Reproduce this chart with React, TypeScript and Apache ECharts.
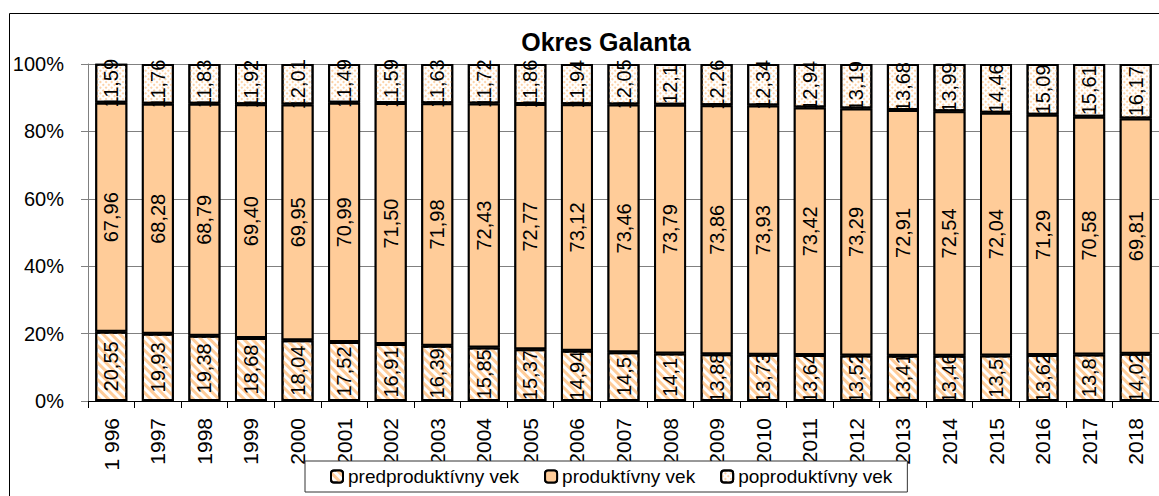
import { useEffect, useRef } from 'react';
import * as echarts from 'echarts';

const years = ['1 996', '1997', '1998', '1999', '2000', '2001', '2002', '2003', '2004', '2005', '2006', '2007', '2008', '2009', '2010', '2011', '2012', '2013', '2014', '2015', '2016', '2017', '2018'];
const predproduktivny = [20.55, 19.93, 19.38, 18.68, 18.04, 17.52, 16.91, 16.39, 15.85, 15.37, 14.94, 14.5, 14.1, 13.88, 13.73, 13.64, 13.52, 13.41, 13.46, 13.5, 13.62, 13.8, 14.02];
const produktivny = [67.96, 68.28, 68.79, 69.4, 69.95, 70.99, 71.5, 71.98, 72.43, 72.77, 73.12, 73.46, 73.79, 73.86, 73.93, 73.42, 73.29, 72.91, 72.54, 72.04, 71.29, 70.58, 69.81];
const poproduktivny = [11.59, 11.76, 11.83, 11.92, 12.01, 11.49, 11.59, 11.63, 11.72, 11.86, 11.94, 12.05, 12.1, 12.26, 12.34, 12.94, 13.19, 13.68, 13.99, 14.46, 15.09, 15.61, 16.17];
const seriesNames = ['predproduktívny vek', 'produktívny vek', 'poproduktívny vek'];
const title = 'Okres Galanta';

const FONT = '"Liberation Sans", Arial, sans-serif';
const PEACH = '#FFCC99';

const fmtRaw = (v: number) => String(v).replace('.', ',');
const fmt2 = (v: number) => v.toFixed(2).replace('.', ',');

export default function App() {
  const ref = useRef<HTMLDivElement>(null);
  useEffect(() => {
    if (!ref.current) return;
    const chart = echarts.init(ref.current, null, { renderer: 'svg' });
    const labelBase = {
      show: true,
      position: 'inside',
      rotate: 90,
      fontSize: 20,
      fontFamily: FONT,
      color: '#000',
      textBorderWidth: 0,
    };
    const itemBase = { borderColor: '#000', borderWidth: 2 };
    chart.setOption({
      animation: false,
      aria: { enabled: true, decal: { show: true } },
      graphic: [
        {
          type: 'rect',
          silent: true,
          z: -1,
          shape: { x: 9.5, y: 13.5, width: 1200, height: 600 },
          style: { fill: 'none', stroke: '#000', lineWidth: 1 },
        },
        {
          type: 'text',
          silent: true,
          x: 606,
          y: 42,
          style: {
            text: title,
            fontFamily: FONT,
            fontWeight: 'bold',
            fontSize: 25,
            fill: '#000',
            textAlign: 'center',
            textVerticalAlign: 'middle',
          },
        },
      ],
      grid: { left: 88, top: 64, width: 1081, height: 337, containLabel: false },
      legend: {
        data: seriesNames,
        left: 305,
        top: 461,
        orient: 'horizontal',
        itemWidth: 12,
        itemHeight: 12,
        itemGap: 25,
        padding: [6, 15, 6, 25],
        backgroundColor: '#fff',
        borderColor: '#333',
        borderWidth: 1,
        z: 10,
        textStyle: { fontSize: 19, fontFamily: FONT, color: '#000', lineHeight: 19 },
      },
      xAxis: {
        type: 'category',
        data: years,
        boundaryGap: true,
        axisLine: { lineStyle: { color: '#000', width: 1 } },
        axisTick: { show: true, length: 7, interval: 0, lineStyle: { color: '#000' } },
        axisLabel: { rotate: 90, interval: 0, margin: 17, fontSize: 21, fontFamily: FONT, color: '#000' },
      },
      yAxis: {
        type: 'value',
        min: 0,
        max: 100,
        interval: 20,
        axisLine: { show: true, lineStyle: { color: '#808080', width: 1 } },
        axisTick: { show: true, length: 7, lineStyle: { color: '#808080' } },
        axisLabel: { formatter: '{value}%', margin: 24, fontSize: 20, fontFamily: FONT, color: '#000' },
        splitLine: { show: true, lineStyle: { color: '#808080', width: 1 } },
      },
      series: [
        {
          name: seriesNames[0],
          type: 'bar',
          stack: 'total',
          barWidth: 32,
          data: predproduktivny,
          itemStyle: {
            ...itemBase,
            color: '#fff',
            decal: {
              symbol: 'rect',
              symbolSize: 1,
              dashArrayX: [1, 0],
              dashArrayY: [3, 3],
              rotation: Math.PI / 4,
              color: PEACH,
            },
          },
          label: { ...labelBase, formatter: (p: any) => fmtRaw(p.value) },
        },
        {
          name: seriesNames[1],
          type: 'bar',
          stack: 'total',
          barWidth: 32,
          data: produktivny,
          itemStyle: {
            ...itemBase,
            color: PEACH,
            decal: {
              symbol: 'rect',
              symbolSize: 1,
              dashArrayX: [1, 0],
              dashArrayY: [1, 0],
              color: PEACH,
            },
          },
          label: { ...labelBase, formatter: (p: any) => fmt2(p.value) },
        },
        {
          name: seriesNames[2],
          type: 'bar',
          stack: 'total',
          barWidth: 32,
          data: poproduktivny,
          itemStyle: {
            ...itemBase,
            color: '#fff',
            decal: {
              symbol: 'rect',
              symbolSize: 1,
              dashArrayX: [2, 2],
              dashArrayY: [2, 2],
              color: '#FCD2A8',
            },
          },
          label: { ...labelBase, formatter: (p: any) => fmtRaw(p.value) },
        },
      ],
    });
    return () => chart.dispose();
  }, []);
  return (
    <div
      ref={ref}
      style={{ position: 'absolute', left: 0, top: 0, width: 1159, height: 496, background: '#fff' }}
    />
  );
}
